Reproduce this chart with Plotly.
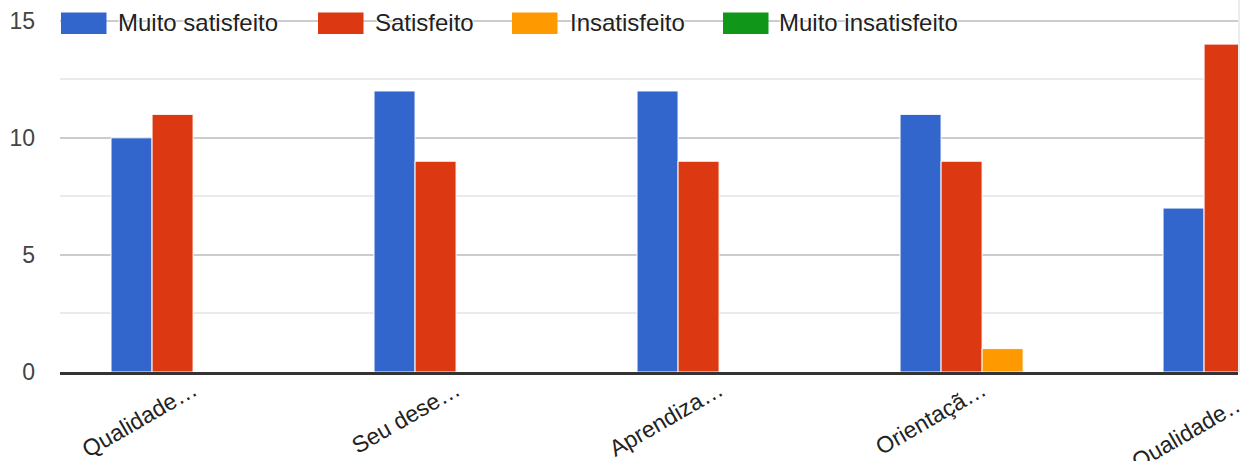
import plotly.graph_objects as go

# ---- data ----
categories = ["Qualidade…", "Seu dese…", "Aprendiza…", "Orientaçã…", "Qualidade…"]
series_names = ["Muito satisfeito", "Satisfeito", "Insatisfeito", "Muito insatisfeito"]
muito_satisfeito = [10, 12, 12, 11, 7]
satisfeito = [11, 9, 9, 9, 14]
insatisfeito = [0, 0, 0, 1, 0]
muito_insatisfeito = [0, 0, 0, 0, 0]
y_tick_values = [0, 5, 10, 15]

series_values = [muito_satisfeito, satisfeito, insatisfeito, muito_insatisfeito]
colors = ["#3366cc", "#dc3912", "#ff9900", "#109618"]

W, H = 1240, 461
L, R, T, B = 60, 2, 16, 89
plot_w = W - L - R
plot_h = H - T - B
x_range = [-0.506, 3.973]
y_range = [0, 15.2]

x_pos = list(range(len(categories)))

fig = go.Figure()
for name, vals, col in zip(series_names, series_values, colors):
    fig.add_trace(go.Bar(
        x=x_pos, y=vals, name=name,
        marker=dict(color=col, line=dict(color="white", width=1)),
        showlegend=False,
    ))

font_family = "Liberation Sans, Arial, sans-serif"

def px_x(px):
    return (px - L) / plot_w

def px_y(py):
    return (H - B - py) / plot_h

# legend drawn as swatches + text (gridline visible between items)
swatch_x = [61, 318, 512, 723]
text_x = [118, 375, 570, 779]
shapes = []
annotations = []
for i, (name, col) in enumerate(zip(series_names, colors)):
    shapes.append(dict(type="rect", xref="paper", yref="paper",
                       x0=px_x(swatch_x[i]), x1=px_x(swatch_x[i] + 45.5),
                       y0=px_y(34), y1=px_y(12.5),
                       fillcolor=col, line=dict(width=0), layer="above"))
    annotations.append(dict(text=name, xref="paper", yref="paper",
                            x=px_x(text_x[i] - 2), y=px_y(22.5),
                            xanchor="left", yanchor="middle", showarrow=False,
                            font=dict(family=font_family, size=24, color="#222222",
                                      shadow="1px 0px 1px white, -1px 0px 1px white, 0px 1px 1px white, 0px -1px 1px white")))

# right edge border line
shapes.append(dict(type="line", xref="paper", yref="paper",
                   x0=px_x(1239), x1=px_x(1239), y0=px_y(372), y1=px_y(0),
                   line=dict(color="#d5d8dc", width=1)))

# last category label (its tick falls just outside the visible range)
last_frac = (x_pos[-1] - x_range[0]) / (x_range[1] - x_range[0])
annotations.append(dict(text=categories[-1], xref="paper", yref="paper",
                        x=last_frac, xshift=9, y=px_y(385), xanchor="right", yanchor="top",
                        textangle=-30, showarrow=False,
                        font=dict(family=font_family, size=23, color="#222222")))

fig.update_layout(
    width=W, height=H, autosize=False,
    margin=dict(l=L, r=R, t=T, b=B, pad=0, autoexpand=False),
    paper_bgcolor="white", plot_bgcolor="white",
    barmode="group", bargap=0.376, bargroupgap=0,
    font=dict(family=font_family, size=23, color="#222222"),
    xaxis=dict(range=x_range, tickvals=x_pos[:-1], ticktext=categories[:-1],
               tickangle=-30, showgrid=False, zeroline=False, automargin=False,
               showline=True, linecolor="#333333", linewidth=3, layer="above traces",
               ticks="", ticklabelstandoff=-7, tickfont=dict(size=23, color="#222222")),
    yaxis=dict(range=y_range, tickvals=y_tick_values, showgrid=True,
               gridcolor="#cccccc", gridwidth=2, zeroline=False, automargin=False,
               ticks="", ticklabelstandoff=24,
               tickfont=dict(size=23, color="#444444"),
               minor=dict(dtick=2.5, tick0=0, showgrid=True, gridcolor="#ebebeb", gridwidth=2)),
    shapes=shapes,
    annotations=annotations,
)

fig.write_html("out.html", config={"displayModeBar": False},
               post_script="document.body.style.margin='0';document.body.style.overflow='hidden';")
